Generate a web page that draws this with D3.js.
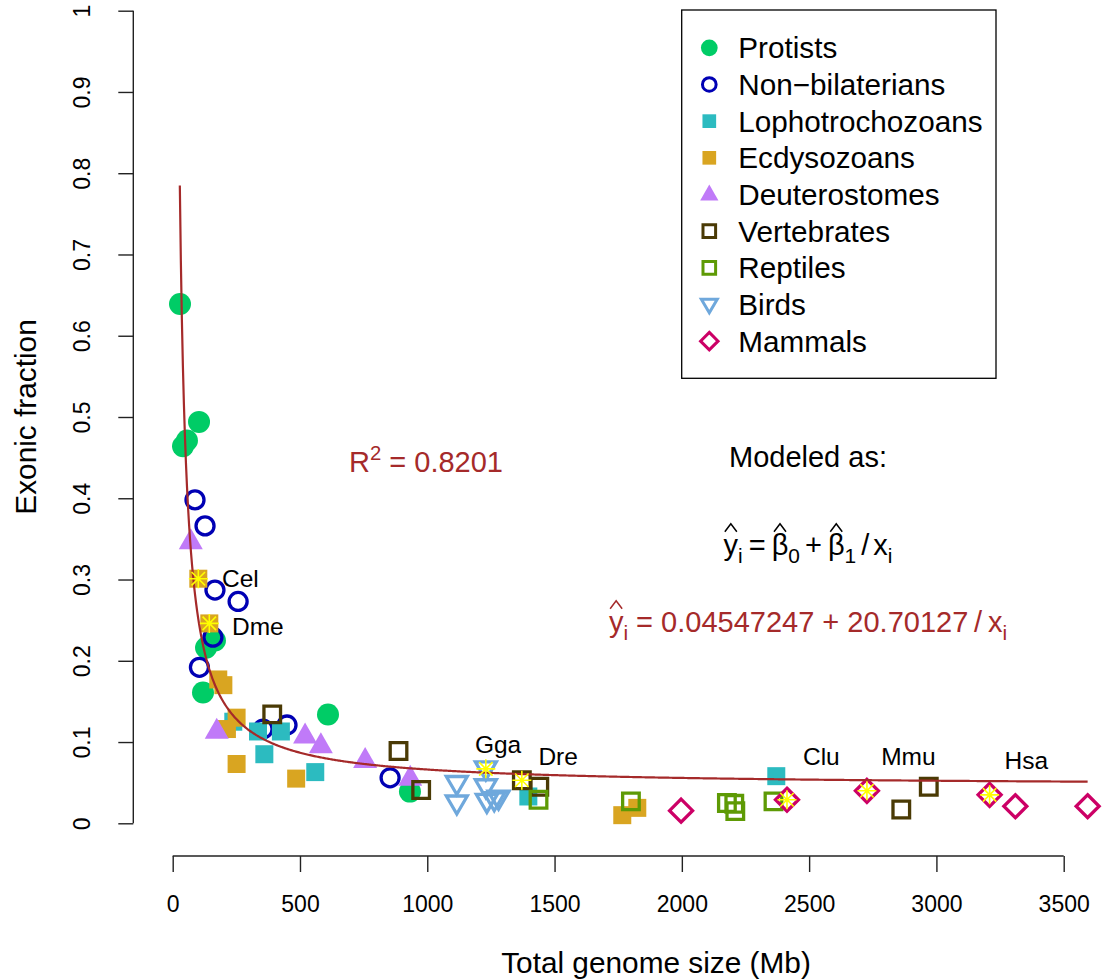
<!DOCTYPE html>
<html>
<head>
<meta charset="utf-8">
<script src="https://cdn.jsdelivr.net/npm/d3@7"></script>
<style>
body { margin: 0; background: #fff; }
svg { display: block; }
text { font-family: "Liberation Sans", Arial, sans-serif; }
</style>
</head>
<body>
<div id="chart"></div>
<script>
// genome size (Mb), exonic fraction
var protists = [[28.7,0.639],[103.4,0.494],[56,0.471],[40.5,0.464],[131,0.216],[166,0.225],[119,0.161],[610,0.134],[932,0.039]];
var nonBilaterians = [[87.6,0.398],[127,0.366],[166,0.287],[257,0.273],[158,0.229],[105,0.192],[355,0.116],[449,0.121],[854,0.056]];
var lophotrochozoans = [[238,0.125],[335,0.113],[425,0.113],[360,0.085],[560,0.063],[1397,0.033],[2371,0.058]];
var ecdysozoans = [[100.6,0.301],[143.8,0.246],[179,0.177],[199,0.170],[251,0.130],[213,0.116],[251,0.073],[485,0.055],[1766,0.010],[1825,0.019]];
var deuterostomes = [[71,0.347],[173,0.114],[520,0.108],[582,0.096],[756,0.078],[933,0.056]];
var vertebrates = [[391,0.134],[887,0.089],[976,0.041],[1371.5,0.053],[1440,0.045],[2970,0.045],[2862,0.017]];
var reptiles = [[1437,0.029],[1800,0.027],[2177,0.025],[2206,0.024],[2210,0.015],[2360,0.027]];
var birds = [[1116,0.049],[1116,0.025],[1230,0.067],[1230,0.045],[1234,0.027],[1263,0.029],[1280,0.031]];
var mammals = [[1997,0.0155],[2413,0.029],[2727,0.040],[3209,0.035],[3310,0.021],[3594,0.021]];

var groupNames = ["Protists","Non\u2212bilaterians","Lophotrochozoans","Ecdysozoans","Deuterostomes","Vertebrates","Reptiles","Birds","Mammals"];

// labelled species: point, then label anchor
var hiNames = ["Cel","Dme","Gga","Dre","Clu","Mmu","Hsa"];
var hiPoints = [[100.6,0.301],[143.8,0.246],[1230,0.067],[1371.5,0.053],[2413,0.029],[2727,0.040],[3209,0.035]];
var hiLabels = [[193.7,0.301],[233,0.2426],[1278,0.0964],[1514,0.082],[2548,0.082],[2890,0.082],[3353,0.077]];
var hiAnchor = ["start","start","middle","middle","middle","middle","middle"];

var xTicks = [0,500,1000,1500,2000,2500,3000,3500];
var yTicks = [0,0.1,0.2,0.3,0.4,0.5,0.6,0.7,0.8,0.9,1];

var b0 = 0.04547247, b1 = 20.70127, r2 = "0.8201";

var W = 1102, H = 980;
var brown = "#A52A2A";

var svg = d3.select("#chart").append("svg").attr("width", W).attr("height", H);

var x = d3.scaleLinear().domain([0,3500]).range([172.7,1063.7]);
var y = d3.scaleLinear().domain([0,1]).range([823.3,10.7]);

// shapes: type, scale
function shape(type, s) {
  var p = d3.path();
  if (type == "circle") { var r = 11*s; p.arc(0,0,r,0,2*Math.PI); }
  else if (type == "ring") { var r = 9*s; p.arc(0,0,r,0,2*Math.PI); }
  else if (type == "square") { var h = 9*s; p.rect(-h,-h,2*h,2*h); }
  else if (type == "osquare") { var h = 8.3*s; p.rect(-h,-h,2*h,2*h); }
  else if (type == "tri") { p.moveTo(0,-13*s); p.lineTo(12*s,8*s); p.lineTo(-12*s,8*s); p.closePath(); }
  else if (type == "otri") { p.moveTo(0,11*s); p.lineTo(-10.5*s,-7*s); p.lineTo(10.5*s,-7*s); p.closePath(); }
  else if (type == "diamond") { var d = 11.5*s; p.moveTo(0,-d); p.lineTo(d,0); p.lineTo(0,d); p.lineTo(-d,0); p.closePath(); }
  return p.toString();
}

var groups = [
  {data: protists, type: "circle", color: "#00CC66", fill: true},
  {data: nonBilaterians, type: "ring", color: "#0000B4", fill: false},
  {data: lophotrochozoans, type: "square", color: "#2CBBC0", fill: true},
  {data: ecdysozoans, type: "square", color: "#D9A521", fill: true},
  {data: deuterostomes, type: "tri", color: "#C07AF8", fill: true},
  {data: vertebrates, type: "osquare", color: "#4A3A05", fill: false},
  {data: reptiles, type: "osquare", color: "#5E9A05", fill: false},
  {data: birds, type: "otri", color: "#6FA8DC", fill: false},
  {data: mammals, type: "diamond", color: "#CC0066", fill: false}
];
groups.forEach(function(g,i){ g.name = groupNames[i]; });

// axes
var xAxis = d3.axisBottom(x).tickValues(xTicks).tickSize(16).tickPadding(24).tickFormat(d3.format("d"));
var gx = svg.append("g").attr("transform","translate(0,856)").call(xAxis);
var yAxis = d3.axisLeft(y).tickValues(yTicks).tickSize(15).tickFormat(function(d){ return d == 0 ? "0" : d == 1 ? "1" : d3.format(".1f")(d); });
var gy = svg.append("g").attr("transform","translate(133.3,0)").call(yAxis);

[gx, gy].forEach(function(g){
  g.select(".domain").attr("stroke","#222").attr("stroke-width",1.4);
  g.selectAll(".tick line").attr("stroke","#222").attr("stroke-width",1.4);
  g.selectAll("text").attr("fill","#000").style("font-size","23px").style("font-family","Liberation Sans, Arial, sans-serif");
});
gx.select(".domain").attr("d","M"+x(0)+",0H"+x(3500));
gy.select(".domain").attr("d","M0,"+y(0)+"V"+y(1));
gy.selectAll(".tick text").attr("x",0).attr("dy",0)
  .attr("transform","translate(-43,0) rotate(-90)").attr("text-anchor","middle");

svg.append("text").attr("x",656).attr("y",973).attr("text-anchor","middle")
  .style("font-size","29.8px").text("Total genome size (Mb)");
svg.append("text").attr("transform","translate(36,417) rotate(-90)").attr("text-anchor","middle")
  .style("font-size","29.8px").text("Exonic fraction");

// points
groups.forEach(function(g){
  svg.append("g").selectAll("path").data(g.data).enter().append("path")
    .attr("d", shape(g.type,1))
    .attr("transform", function(d){ return "translate("+x(d[0])+","+y(d[1])+")"; })
    .attr("fill", g.fill ? g.color : "none")
    .attr("stroke", g.fill ? "none" : g.color)
    .attr("stroke-width", g.fill ? 0 : 3.3)
    .attr("stroke-linejoin","miter");
});

// fitted curve
var xs = d3.range(28, 3594, 4).concat([3594]);
var line = d3.line().x(function(d){ return x(d); }).y(function(d){ return y(b0 + b1/d); });
svg.append("path").datum(xs).attr("d", line).attr("fill","none").attr("stroke",brown).attr("stroke-width",2.2);

// asterisks on labelled species
var star = d3.path();
[0,45,90,135].forEach(function(a){
  var r = 9.5, t = a*Math.PI/180;
  star.moveTo(-r*Math.cos(t), -r*Math.sin(t)); star.lineTo(r*Math.cos(t), r*Math.sin(t));
});
svg.append("g").selectAll("path").data(hiPoints).enter().append("path")
  .attr("d", star.toString())
  .attr("transform", function(d){ return "translate("+x(d[0])+","+y(d[1])+")"; })
  .attr("stroke","#FFFF00").attr("stroke-width",1.6).attr("fill","none");

svg.append("g").selectAll("text").data(hiLabels).enter().append("text")
  .attr("x", function(d){ return x(d[0]); })
  .attr("y", function(d){ return y(d[1]) + 8.5; })
  .attr("text-anchor", function(d,i){ return hiAnchor[i]; })
  .style("font-size","24.5px")
  .text(function(d,i){ return hiNames[i]; });

// legend
var lg = svg.append("g");
lg.append("rect").attr("x",681.7).attr("y",10).attr("width",314.3).attr("height",368.3)
  .attr("fill","#fff").attr("stroke","#000").attr("stroke-width",1.3);
groups.forEach(function(g,i){
  var cy = 47.8 + i*36.67;
  lg.append("path").attr("d", shape(g.type,0.76))
    .attr("transform","translate(709.3,"+cy+")")
    .attr("fill", g.fill ? g.color : "none")
    .attr("stroke", g.fill ? "none" : g.color)
    .attr("stroke-width", g.fill ? 0 : 3);
  lg.append("text").attr("x",738.3).attr("y",cy+10.5).style("font-size","29.7px").text(g.name);
});

// math text with hats, subscripts and small gaps
function mathText(cx, base, parts, fs, color) {
  var t = svg.append("text").attr("x",cx).attr("y",base).attr("text-anchor","middle")
    .attr("fill",color).style("font-size",fs+"px");
  var idx = 0, hats = [], shift = 0;
  parts.forEach(function(p){
    var ts = t.append("tspan").text(p.t);
    if (p.gap) ts.attr("dx", p.gap);
    if (p.sub) { ts.attr("dy", 0.27*fs - shift).style("font-size",(0.72*fs)+"px"); shift = 0.27*fs; }
    else if (p.sup) { ts.attr("dy", -0.42*fs - shift).style("font-size",(0.7*fs)+"px"); shift = -0.42*fs; }
    else { if (shift) ts.attr("dy", -shift); shift = 0; }
    if (p.hat) hats.push(idx);
    idx += p.t.length;
  });
  var node = t.node();
  hats.forEach(function(k){
    var e = node.getExtentOfChar(k);
    var mx = e.x + e.width/2, hw = 6;
    svg.append("path")
      .attr("d","M"+(mx-hw)+","+(base-0.8*fs)+"L"+mx+","+(base-1.08*fs)+"L"+(mx+hw)+","+(base-0.8*fs))
      .attr("fill","none").attr("stroke",color).attr("stroke-width",1.5);
  });
  return t;
}

mathText(426, 472, [{t:"R"},{t:"2",sup:true},{t:" = "+r2}], 29, brown);
svg.append("text").attr("x",808).attr("y",467).attr("text-anchor","middle").style("font-size","29px").text("Modeled as:");
mathText(808, 555, [{t:"y",hat:true},{t:"i",sub:true},{t:"=",gap:6},{t:"\u03B2",hat:true,gap:6},{t:"0",sub:true},{t:"+",gap:5},
  {t:"\u03B2",hat:true,gap:6},{t:"1",sub:true},{t:"/",gap:5},{t:"x",gap:4},{t:"i",sub:true}], 29, "#000");
mathText(808, 632, [{t:"y",hat:true},{t:"i",sub:true},{t:" = "+b0+" + "+b1+"\u2009/\u2009"},{t:"x"},{t:"i",sub:true}], 29, brown);
</script>
</body>
</html>
